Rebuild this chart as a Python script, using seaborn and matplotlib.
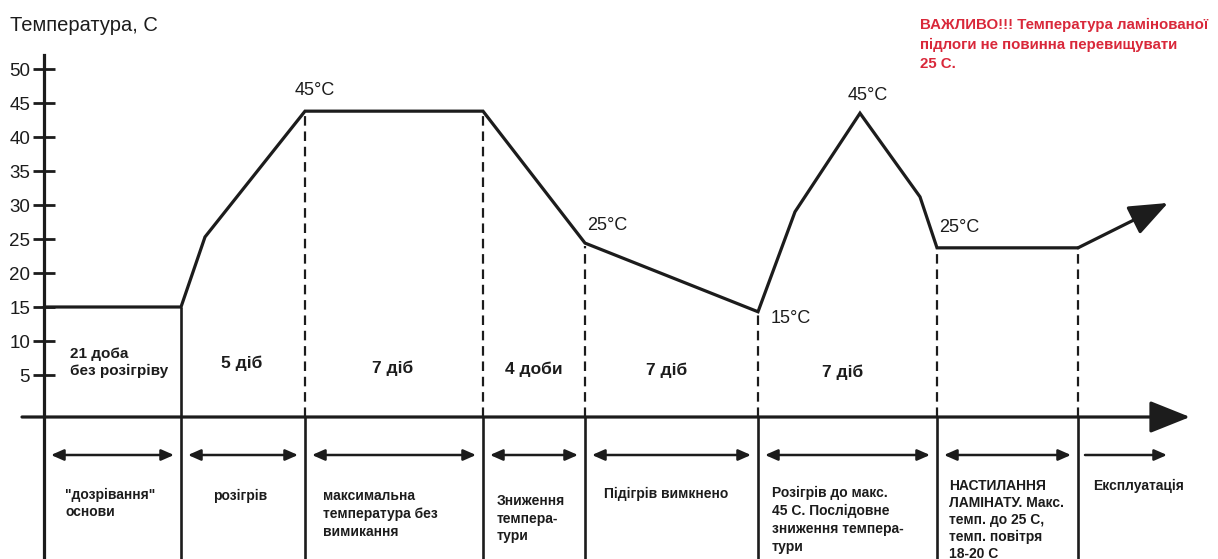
import matplotlib
matplotlib.use("Agg")
import matplotlib.pyplot as plt
import seaborn as sns
import numpy as np
import pandas as pd

# ---------------- data ----------------
# timeline position (arbitrary units along the time axis) and floor temperature, C
curve_pos = [44, 181, 205, 305, 483, 585, 758, 795, 860, 920, 937, 1078]
curve_temp = [15, 15, 25.3, 43.8, 43.8, 24.4, 14.3, 29.0, 43.5, 31.2, 23.7, 23.7]
trend_end = (1168, 30.3)

stage_bounds = [181, 305, 483, 585, 758, 937, 1078]
y_ticks = [5, 10, 15, 20, 25, 30, 35, 40, 45, 50]

duration_labels = ["21 доба\nбез розігріву", "5 діб", "7 діб", "4 доби", "7 діб", "7 діб"]
stage_labels = [
    "\"дозрівання\"\nоснови",
    "розігрів",
    "максимальна\nтемпература без\nвимикання",
    "Зниження\nтемпера-\nтури",
    "Підігрів вимкнено",
    "Розігрів до макс.\n45 С. Послідовне\nзниження темпера-\nтури",
    "НАСТИЛАННЯ\nЛАМІНАТУ. Макс.\nтемп. до 25 С,\nтемп. повітря\n18-20 С",
    "Експлуатація",
]
point_labels = ["45°C", "25°C", "15°C", "45°C", "25°C"]
warning = "ВАЖЛИВО!!! Температура ламінованої\nпідлоги не повинна перевищувати\n25 С."
y_title = "Температура, С"

# ---------------- style ----------------
sns.set_theme(style="white")
plt.rcParams["font.family"] = ["Liberation Sans", "DejaVu Sans"]
INK = "#1c1c1c"
RED = "#d9283a"

fig = plt.figure(figsize=(12.18, 5.59), dpi=100)
ax = fig.add_axes([0, 0, 1, 1])
ax.set_xlim(0, 1218)
PX = 6.8          # pixels per degree
ZERO = 409        # pixel row of 0 C
ax.set_ylim((ZERO - 559) / PX, ZERO / PX)


def Y(p):
    return (ZERO - p) / PX


axis_y = Y(417)

# curve
df = pd.DataFrame({"pos": curve_pos, "temp": curve_temp})
sns.lineplot(data=df, x="pos", y="temp", ax=ax, color=INK, lw=2.3, sort=False)
for ln in ax.lines:
    ln.set_solid_joinstyle("miter")

# trend arrow
ax.annotate("", xy=trend_end, xytext=(curve_pos[-1], curve_temp[-1]),
            arrowprops=dict(arrowstyle="-|>,head_length=2.4,head_width=0.95",
                            mutation_scale=10, lw=2.3, color=INK,
                            shrinkA=0, shrinkB=0))

# time axis arrow
ax.annotate("", xy=(1190, axis_y), xytext=(22, axis_y),
            arrowprops=dict(arrowstyle="-|>,head_length=2.5,head_width=1.0",
                            mutation_scale=10, lw=2.3, color=INK,
                            shrinkA=0, shrinkB=0))

# y axis (spine)
for s in ["top", "right", "bottom"]:
    ax.spines[s].set_visible(False)
ax.spines["left"].set_position(("data", 44))
ax.spines["left"].set_bounds(Y(559), Y(55))
ax.spines["left"].set_linewidth(2.3)
ax.spines["left"].set_color(INK)
ax.set_xticks([])
ax.set_yticks(y_ticks)
ax.set_yticklabels([str(t) for t in y_ticks])
ax.tick_params(axis="y", direction="inout", length=16, width=2.0, pad=2,
               labelsize=13.5, colors=INK, left=True)
ax.set_xlabel("")
ax.set_ylabel("")
ax.grid(False)

# stage boundaries
tops = np.interp(stage_bounds, curve_pos, curve_temp)
ax.vlines(stage_bounds[0], axis_y, tops[0], colors=INK, lw=1.9)
ax.vlines(stage_bounds[1:], axis_y, tops[1:] - 0.4, colors=INK, lw=1.6,
          linestyles=[(0, (4.3, 2.6))])
ax.vlines(stage_bounds, Y(559), axis_y, colors=INK, lw=1.9)

# duration arrows
starts = [44] + stage_bounds
ends = stage_bounds + [1174]
arr_y = Y(455)
for i, (a, b) in enumerate(zip(starts, ends)):
    style = "<|-|>" if i < len(starts) - 1 else "-|>"
    ax.annotate("", xy=(b - 7, arr_y), xytext=(a + 7, arr_y),
                arrowprops=dict(arrowstyle=style + ",head_length=0.75,head_width=0.33",
                                mutation_scale=10, lw=1.8, color=INK,
                                shrinkA=0, shrinkB=0))


def put_lines(x, first_base, step, text, ha="left", **kw):
    for k, line in enumerate(text.split("\n")):
        ax.text(x, Y(first_base + k * step), line, ha=ha, va="baseline", **kw)


# title + warning
put_lines(10, 31, 19, y_title, fontsize=14.5, color=INK)
put_lines(920, 29, 19.5, warning, fontsize=10.8, fontweight="bold", color=RED)

# point labels
pl_pos = [(295, 95), (587, 230), (771, 323), (848, 100), (939, 232)]
for lab, (x, b) in zip(point_labels, pl_pos):
    put_lines(x, b, 0, lab, fontsize=13, color=INK)

# durations
put_lines(70, 358, 17.5, duration_labels[0], fontsize=11, fontweight="bold", color=INK)
dur_pos = [(242, 368), (393, 373), (534, 374), (667, 375), (843, 377)]
for lab, (x, b) in zip(duration_labels[1:], dur_pos):
    put_lines(x, b, 0, lab, ha="center", fontsize=12.5, fontweight="bold", color=INK)

# stage descriptions
st_pos = [(65, 499, 17.5), (213, 500, 18), (323, 500, 18), (497, 505, 17.5),
          (604, 498, 18), (772, 497, 18), (949, 490, 17), (1093, 490, 18)]
for lab, (x, b, st) in zip(stage_labels, st_pos):
    put_lines(x, b, st, lab, fontsize=10, fontweight="bold", color=INK)

fig.savefig("out.png", dpi=100, facecolor="white")
